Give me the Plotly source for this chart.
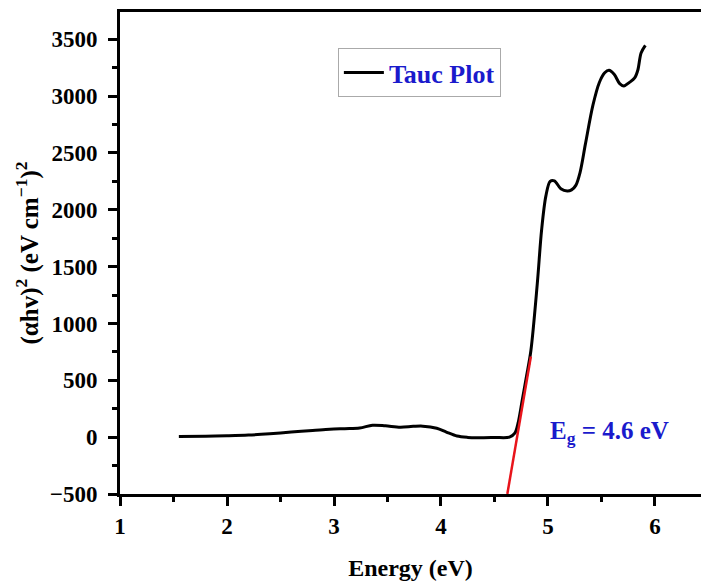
import plotly.graph_objects as go

# Tauc plot data
energy = [1.55, 1.8, 2.0, 2.2, 2.4, 2.6, 2.8, 2.96, 3.1, 3.24, 3.36, 3.48, 3.62, 3.74, 3.83, 3.96,
          4.05, 4.15, 4.25, 4.34, 4.5, 4.64, 4.69, 4.72, 4.76, 4.8, 4.84, 4.9, 4.94, 4.98, 5.02,
          5.06, 5.12, 5.18, 5.22, 5.26, 5.30, 5.35, 5.42, 5.48, 5.53, 5.57, 5.62, 5.67, 5.71, 5.76,
          5.81, 5.84, 5.87, 5.91]
absorb = [5, 8, 12, 18, 30, 45, 58, 70, 75, 80, 105, 100, 88, 95, 97, 79,
          45, 10, -2, -5, -3, 0, 35, 123, 330, 540, 760, 1350, 1820, 2120, 2250,
          2255, 2185, 2165, 2175, 2215, 2330, 2580, 2920, 3120, 3205, 3227, 3190, 3110, 3090, 3120,
          3160, 3230, 3380, 3447]

fit_x = [4.62, 4.84]
fit_y = [-500, 710]

x_ticks = [1, 2, 3, 4, 5, 6]
y_ticks = [-500, 0, 500, 1000, 1500, 2000, 2500, 3000, 3500]

FONT = "Times New Roman, Liberation Serif, serif"

fig = go.Figure()
fig.add_trace(go.Scatter(x=energy, y=absorb, mode="lines", name="Tauc Plot",
                         line=dict(color="black", width=3, shape="spline", smoothing=0.9)))
fig.add_trace(go.Scatter(x=fit_x, y=fit_y, mode="lines", showlegend=False,
                         line=dict(color="#e8141b", width=2.5)))

fig.add_annotation(x=5.0, y=40, xref="x", yref="y", xanchor="left", yanchor="middle",
                   text="<b>E<sub>g</sub> = 4.6 eV</b>", showarrow=False,
                   font=dict(family=FONT, size=25, color="#1a1acc"))

fig.update_layout(
    width=701, height=586,
    margin=dict(l=120, r=0, t=12, b=92),
    paper_bgcolor="white", plot_bgcolor="white",
    font=dict(family=FONT, size=23, color="black", weight="bold"),
    legend=dict(x=0.375, y=0.925, xanchor="left", yanchor="top",
                bgcolor="white", bordercolor="#aaaaaa", borderwidth=1,
                font=dict(family=FONT, size=26, color="#1a1acc", weight="bold"),
                itemwidth=40, tracegroupgap=0),
    xaxis=dict(range=[1, 6.43], tickvals=x_ticks, showline=True, linecolor="black", linewidth=3,
               mirror=True, ticks="outside", ticklen=9, tickwidth=3, tickcolor="black",
               tickfont=dict(family=FONT, size=23, weight="bold"),
               minor=dict(dtick=0.5, ticks="outside", ticklen=5, tickwidth=3, tickcolor="black"),
               showgrid=False, zeroline=False,
               title=dict(text="<b>Energy (eV)</b>", standoff=22,
                          font=dict(family=FONT, size=24))),
    yaxis=dict(range=[-500, 3740], tickvals=y_ticks, showline=True, linecolor="black", linewidth=3,
               ticks="outside", ticklen=9, tickwidth=3, tickcolor="black",
               tickfont=dict(family=FONT, size=23, weight="bold"),
               minor=dict(dtick=250, ticks="outside", ticklen=5, tickwidth=3, tickcolor="black"),
               showgrid=False, zeroline=False, ticklabelstandoff=6,
               title=dict(text="<b>(αhv)<sup>2</sup> (eV cm<sup>−1</sup>)<sup>2</sup></b>", standoff=5,
                          font=dict(family=FONT, size=25))),
)

fig.write_html("out.html")
